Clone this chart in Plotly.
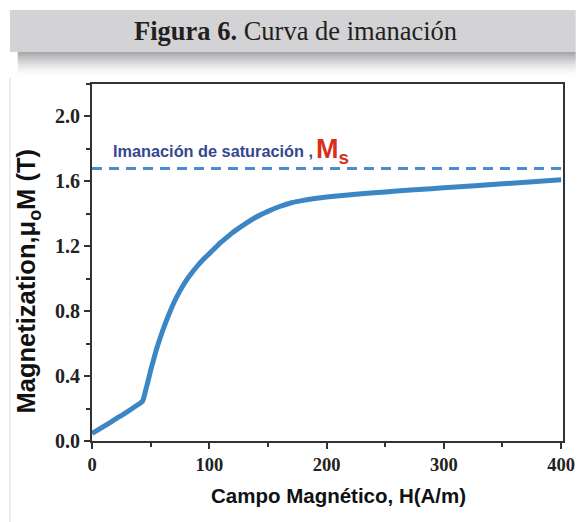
import plotly.graph_objects as go

# ---- data ----
H = [0, 10, 20, 30, 40, 43, 46, 48, 50, 52.5, 55, 60, 65, 70, 75, 80, 85, 90, 95,
     100, 105, 110, 115, 120, 130, 140, 150, 160, 170, 180, 190, 200, 225, 250,
     275, 300, 350, 400]
M = [0.047, 0.09, 0.135, 0.18, 0.228, 0.245, 0.32, 0.375, 0.435, 0.50, 0.565,
     0.675, 0.77, 0.855, 0.925, 0.985, 1.035, 1.08, 1.12, 1.155, 1.19, 1.225,
     1.255, 1.285, 1.335, 1.38, 1.415, 1.445, 1.468, 1.483, 1.494, 1.503, 1.52,
     1.535, 1.548, 1.56, 1.585, 1.61]
Ms = 1.68
Ms_x = [0, 400]
x_ticks = [0, 100, 200, 300, 400]
y_ticks = [0.0, 0.4, 0.8, 1.2, 1.6, 2.0]

W, Hgt = 587, 522
L, R, T, B = 92, 13, 84, 81
pw, ph = W - L - R, Hgt - T - B


def px(x):
    return (x - L) / pw


def py(y):
    return (Hgt - B - y) / ph


fig = go.Figure()
fig.add_trace(go.Scatter(x=Ms_x, y=[Ms, Ms], mode="lines",
                         line=dict(color="#4a8dcc", width=3, dash="10px,7px"),
                         hoverinfo="skip", showlegend=False))
fig.add_trace(go.Scatter(x=H, y=M, mode="lines",
                         line=dict(color="#3d86c4", width=5, shape="spline", smoothing=0.8),
                         showlegend=False))

shapes = []
# banner
shapes.append(dict(type="rect", xref="paper", yref="paper", x0=px(8), x1=px(587),
                   y0=py(52), y1=py(10), fillcolor="#d3d3d5", line=dict(width=0), layer="below"))
# shadow strips
n = 12
for i in range(n):
    y0 = 52 + i * 2
    a = 0.75 * (1 - i / n) ** 1.6
    shapes.append(dict(type="rect", xref="paper", yref="paper", x0=px(16), x1=px(587),
                       y0=py(y0 + 2), y1=py(y0), fillcolor=f"rgba(140,140,144,{a:.3f})",
                       line=dict(width=0), layer="below"))
# faint panel edge
shapes.append(dict(type="line", xref="paper", yref="paper", x0=px(8), x1=px(8),
                   y0=py(522), y1=py(78), line=dict(color="#ededed", width=2)))

annotations = [
    dict(xref="paper", yref="paper", x=px(300.5), y=py(31), xanchor="center", yanchor="middle",
         text="<b>Figura 6.</b> Curva de imanación", showarrow=False,
         font=dict(family="Liberation Serif", size=26.5, color="#231f20")),
    dict(x=(111 - 92) / 1.2, y=(441 - 151) / 162.3, xanchor="left", yanchor="middle",
         text="<b>Imanación de saturación ,</b>", showarrow=False,
         font=dict(family="Liberation Sans", size=16.3, color="#35478f")),
    dict(x=(319 - 92) / 1.2, y=(441 - 151) / 162.3, xanchor="left", yanchor="middle",
         text="<b>M<sub>s</sub></b>", showarrow=False,
         font=dict(family="Liberation Sans", size=27, color="#d62f1f")),
    dict(xref="paper", yref="paper", x=px(344.5), y=py(496), xanchor="center", yanchor="middle",
         text="<b>Campo Magnético, H(A/m)</b>", showarrow=False,
         font=dict(family="Liberation Sans", size=20.5, color="#111111")),
    dict(xref="paper", yref="paper", x=px(27), y=py(281), xanchor="center", yanchor="middle",
         textangle=-90, text="<b>Magnetization,μ<sub>o</sub>M (T)</b>", showarrow=False,
         font=dict(family="Liberation Sans", size=25.5, color="#111111")),
]

axis_common = dict(showline=True, linecolor="#333333", linewidth=2, mirror=True,
                   ticks="outside", ticklen=6, tickwidth=2, tickcolor="#333333",
                   showgrid=False, zeroline=False)

fig.update_layout(
    width=W, height=Hgt, margin=dict(l=L, r=R, t=T, b=B),
    paper_bgcolor="white", plot_bgcolor="white",
    shapes=shapes, annotations=annotations,
    xaxis=dict(range=[0, 401.6], tickvals=x_ticks,
               ticktext=[f"<b>{v}</b>" for v in x_ticks],
               tickfont=dict(family="Liberation Serif", size=18.5, color="#222222"),
               minor=dict(ticks="outside", ticklen=4, tickwidth=1.5, dtick=50, tick0=0,
                          tickcolor="#333333"),
               **axis_common),
    yaxis=dict(range=[0, 2.2], tickvals=y_ticks,
               ticktext=[f"<b>{v:.1f}</b>" for v in y_ticks],
               tickfont=dict(family="Liberation Serif", size=20, color="#222222"),
               minor=dict(ticks="outside", ticklen=4, tickwidth=1.5, dtick=0.2, tick0=0,
                          tickcolor="#333333"),
               **axis_common),
)

fig.write_html("out.html")
